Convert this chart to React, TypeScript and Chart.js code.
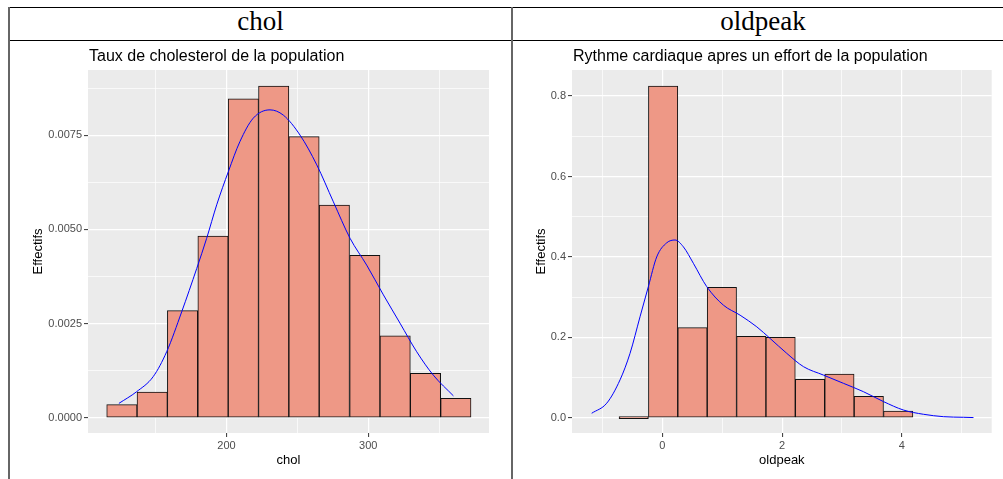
import React, { useEffect, useRef } from "react";
import { Chart, registerables } from "chart.js";

Chart.register(...registerables);

// ---------- DATA: chol ----------
const cholBinCenters = [126.2, 147.6, 169.0, 190.5, 211.9, 233.3, 254.7, 276.1, 297.6, 319.0, 340.4, 361.8];
const cholBinHeights = [0.000345, 0.00068, 0.00284, 0.00482, 0.00846, 0.0088, 0.00746, 0.00564, 0.00431, 0.00217, 0.00118, 0.000515];
const cholDensityX = [124.1, 136.6, 148.3, 157.8, 168.4, 179.0, 186.0, 193.1, 201.3, 209.5, 218.9, 230.7, 240.1, 251.9, 263.7, 275.4, 287.2, 298.9, 310.7, 322.4, 334.2, 345.9, 360.1];
const cholDensityY = [0.00038, 0.00069, 0.00109, 0.00175, 0.00281, 0.00396, 0.00476, 0.00565, 0.00653, 0.00733, 0.00795, 0.00817, 0.00803, 0.0075, 0.00671, 0.00573, 0.00476, 0.00405, 0.00326, 0.00251, 0.00175, 0.00113, 0.00058];
const cholXMajor = [200, 300];
const cholXLabels = ["200", "300"];
const cholXMinor = [150, 250, 350];
const cholYMajor = [0, 0.0025, 0.005, 0.0075];
const cholYLabels = ["0.0000", "0.0025", "0.0050", "0.0075"];
const cholYMinor = [0.00125, 0.00375, 0.00625, 0.00875];

// ---------- DATA: oldpeak ----------
const oldBinCenters = [-0.478, 0.0125, 0.503, 0.994, 1.485, 1.975, 2.466, 2.957, 3.448, 3.939];
const oldBinHeights = [0, 0.825, 0.224, 0.3244, 0.2025, 0.2, 0.0955, 0.1087, 0.0532, 0.0167];
const oldDensityX = [-1.18, -0.929, -0.707, -0.54, -0.373, -0.234, -0.094, 0.073, 0.212, 0.351, 0.518, 0.741, 1.019, 1.298, 1.577, 1.8, 2.078, 2.356, 2.69, 3.024, 3.358, 3.693, 4.027, 4.36, 4.695, 5.03, 5.196];
const oldDensityY = [0.011, 0.036, 0.094, 0.16, 0.251, 0.326, 0.4, 0.435, 0.442, 0.425, 0.384, 0.326, 0.28, 0.255, 0.226, 0.197, 0.16, 0.127, 0.106, 0.0855, 0.0647, 0.04, 0.019, 0.0085, 0.0025, 0.001, 0.0003];
const oldXMajor = [0, 2, 4];
const oldXLabels = ["0", "2", "4"];
const oldXMinor = [-1, 1, 3, 5];
const oldYMajor = [0, 0.2, 0.4, 0.6, 0.8];
const oldYLabels = ["0.0", "0.2", "0.4", "0.6", "0.8"];
const oldYMinor = [0.1, 0.3, 0.5, 0.7];

const SANS = "'Liberation Sans', Arial, sans-serif";

type HistProps = {
  left: number;
  top: number;
  width: number;
  height: number;
  centers: number[];
  heights: number[];
  dx: number[];
  dy: number[];
  xMin: number;
  xMax: number;
  yMin: number;
  yMax: number;
  xMajor: number[];
  xLabels: string[];
  xMinor: number[];
  yMajor: number[];
  yLabels: string[];
  yMinor: number[];
  title: string;
  xTitle: string;
  yTitle: string;
  padTop: number;
  padRight: number;
  yAxisWidth: number;
  xAxisHeight: number;
  yTitlePad: number;
};

const near = (a: number, b: number) => Math.abs(a - b) < 1e-9;
const findIdx = (arr: number[], v: number) => arr.findIndex((m) => near(m, v));

function GgHist(p: HistProps) {
  const ref = useRef<HTMLCanvasElement | null>(null);
  useEffect(() => {
    if (!ref.current) return;
    const panelBg = {
      id: "panelBg",
      beforeDraw(chart: any) {
        const { ctx, chartArea: a } = chart;
        ctx.save();
        ctx.fillStyle = "#EBEBEB";
        ctx.fillRect(a.left, a.top, a.right - a.left, a.bottom - a.top);
        ctx.restore();
      },
    };
    const ggTitle = {
      id: "ggTitle",
      afterDraw(chart: any) {
        const { ctx, chartArea: a } = chart;
        ctx.save();
        ctx.font = `16px ${SANS}`;
        ctx.fillStyle = "#000000";
        ctx.textBaseline = "alphabetic";
        ctx.textAlign = "left";
        ctx.fillText(p.title, a.left + 1, a.top - 9);
        ctx.restore();
      },
    };
    const allX = [...p.xMajor, ...p.xMinor].sort((a, b) => a - b);
    const allY = [...p.yMajor, ...p.yMinor].sort((a, b) => a - b);
    const chart = new Chart(ref.current, {
      type: "bar",
      data: {
        datasets: [
          {
            type: "line",
            data: p.dx.map((x, i) => ({ x, y: p.dy[i] })),
            borderColor: "#0000FF",
            borderWidth: 1,
            pointRadius: 0,
            fill: false,
            cubicInterpolationMode: "monotone",
            order: 0,
          } as any,
          {
            type: "bar",
            data: p.centers.map((x, i) => ({ x, y: p.heights[i] })),
            backgroundColor: "#EE9886",
            borderColor: "#111111",
            borderWidth: 1,
            borderSkipped: false,
            barPercentage: 1,
            categoryPercentage: 1,
            minBarLength: 2,
            grouped: false,
            order: 1,
          } as any,
        ],
      },
      options: {
        animation: false,
        responsive: false,
        devicePixelRatio: 1,
        layout: { padding: { left: 0, top: p.padTop, right: p.padRight, bottom: 0 } },
        plugins: { legend: { display: false }, tooltip: { enabled: false } },
        scales: {
          x: {
            type: "linear",
            min: p.xMin,
            max: p.xMax,
            offset: false,
            afterBuildTicks: (s: any) => {
              s.ticks = allX.map((v) => ({ value: v }));
            },
            afterFit: (s: any) => {
              s.height = p.xAxisHeight;
            },
            ticks: {
              autoSkip: false,
              maxRotation: 0,
              padding: 2,
              color: "#4D4D4D",
              font: { family: SANS, size: 11 },
              callback: (v: any) => {
                const i = findIdx(p.xMajor, Number(v));
                return i >= 0 ? p.xLabels[i] : "";
              },
            },
            grid: {
              offset: false,
              color: "#FFFFFF",
              lineWidth: (c: any) => (c.tick && findIdx(p.xMajor, c.tick.value) >= 0 ? 1.2 : 0.7),
              tickColor: (c: any) => (c.tick && findIdx(p.xMajor, c.tick.value) >= 0 ? "#333333" : "rgba(0,0,0,0)"),
              tickLength: 4,
              tickWidth: 1,
              drawTicks: true,
            },
            border: { display: false },
            title: {
              display: true,
              text: p.xTitle,
              color: "#000000",
              font: { family: SANS, size: 13 },
              padding: { top: 0, bottom: 11 },
            },
          },
          y: {
            type: "linear",
            min: p.yMin,
            max: p.yMax,
            afterBuildTicks: (s: any) => {
              s.ticks = allY.map((v) => ({ value: v }));
            },
            afterFit: (s: any) => {
              s.width = p.yAxisWidth;
            },
            ticks: {
              autoSkip: false,
              padding: 2,
              color: "#4D4D4D",
              font: { family: SANS, size: 11 },
              callback: (v: any) => {
                const i = findIdx(p.yMajor, Number(v));
                return i >= 0 ? p.yLabels[i] : "";
              },
            },
            grid: {
              color: "#FFFFFF",
              lineWidth: (c: any) => (c.tick && findIdx(p.yMajor, c.tick.value) >= 0 ? 1.2 : 0.7),
              tickColor: (c: any) => (c.tick && findIdx(p.yMajor, c.tick.value) >= 0 ? "#333333" : "rgba(0,0,0,0)"),
              tickLength: 4,
              tickWidth: 1,
              drawTicks: true,
            },
            border: { display: false },
            title: {
              display: true,
              text: p.yTitle,
              color: "#000000",
              font: { family: SANS, size: 13 },
              padding: { top: p.yTitlePad, bottom: 0 },
            },
          },
        },
      } as any,
      plugins: [panelBg, ggTitle],
    });
    return () => chart.destroy();
  }, []);
  return (
    <canvas
      ref={ref}
      width={p.width}
      height={p.height}
      style={{ position: "absolute", left: p.left, top: p.top, width: p.width, height: p.height }}
    />
  );
}

export default function App() {
  const line = (s: React.CSSProperties) => <div style={{ position: "absolute", ...s }} />;
  const header: React.CSSProperties = {
    position: "absolute",
    top: 8,
    height: 27,
    lineHeight: "27px",
    fontFamily: "'Liberation Serif', 'Times New Roman', serif",
    fontSize: 27,
    color: "#000",
    textAlign: "center",
  };
  return (
    <div
      style={{
        position: "fixed",
        left: 0,
        top: 0,
        width: 1003,
        height: 479,
        overflow: "hidden",
        background: "#FFFFFF",
      }}
    >
      {line({ left: 8, top: 7, width: 1010, height: 1, background: "#000" })}
      {line({ left: 8, top: 40, width: 1010, height: 1, background: "#000" })}
      {line({ left: 8, top: 7, width: 2, height: 480, background: "#666" })}
      {line({ left: 511, top: 7, width: 2, height: 480, background: "#666" })}
      <div style={{ ...header, left: 10, width: 501 }}>chol</div>
      <div style={{ ...header, left: 513, width: 500 }}>oldpeak</div>
      <GgHist
        left={10}
        top={41}
        width={500}
        height={438}
        centers={cholBinCenters}
        heights={cholBinHeights}
        dx={cholDensityX}
        dy={cholDensityY}
        xMin={102.3}
        xMax={385.2}
        yMin={-0.000406}
        yMax={0.009228}
        xMajor={cholXMajor}
        xLabels={cholXLabels}
        xMinor={cholXMinor}
        yMajor={cholYMajor}
        yLabels={cholYLabels}
        yMinor={cholYMinor}
        title="Taux de cholesterol de la population"
        xTitle="chol"
        yTitle="Effectifs"
        padTop={29}
        padRight={21}
        yAxisWidth={78}
        xAxisHeight={46}
        yTitlePad={20.5}
      />
      <GgHist
        left={513}
        top={41}
        width={490}
        height={438}
        centers={oldBinCenters}
        heights={oldBinHeights}
        dx={oldDensityX}
        dy={oldDensityY}
        xMin={-1.509}
        xMax={5.5}
        yMin={-0.0381}
        yMax={0.8649}
        xMajor={oldXMajor}
        xLabels={oldXLabels}
        xMinor={oldXMinor}
        yMajor={oldYMajor}
        yLabels={oldYLabels}
        yMinor={oldYMinor}
        title="Rythme cardiaque apres un effort de la population"
        xTitle="oldpeak"
        yTitle="Effectifs"
        padTop={29}
        padRight={11.3}
        yAxisWidth={59}
        xAxisHeight={46}
        yTitlePad={20.9}
      />
    </div>
  );
}
